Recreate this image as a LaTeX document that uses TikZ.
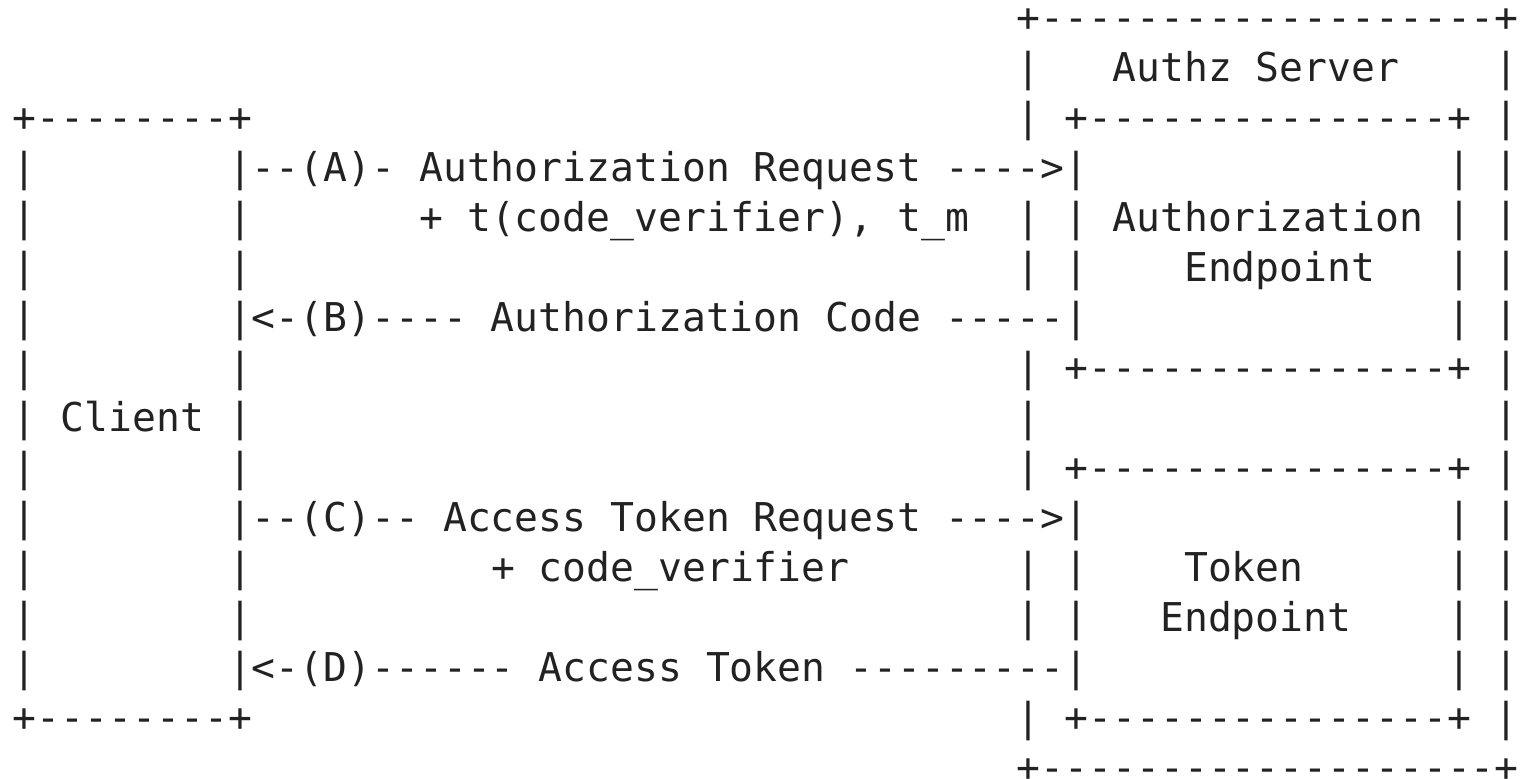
\documentclass[tikz,border=0pt]{standalone}
\usepackage{fontspec}
\setmonofont{DejaVu Sans Mono}
\definecolor{ink}{HTML}{222222}
\tikzset{asc/.style={anchor=base west, inner sep=0pt, outer sep=0pt, text=ink,
  font=\ttfamily\fontsize{19.85}{24}\selectfont}}
% name, column, row, text
\newcommand\asctxt[4]{\node[asc] (#1) at ({6.49+11.951*(#2)},{-(16+25*(#3))}) {#4};}
\begin{document}
\begin{tikzpicture}[x=1pt,y=1pt]
\useasboundingbox (0,0) rectangle (763,-389.5);
% Authz Server outer box
\asctxt{srvtop}{42}{0}{+-------------------+}
\asctxt{srvtitle}{46}{1}{Authz Server}
\asctxt{srvbot}{42}{15}{+-------------------+}
\foreach \r in {1,...,14} {\asctxt{sr\r}{62}{\r}{|}}
\foreach \r in {1,2,4,5,7,8,9,11,12,14} {\asctxt{sl\r}{42}{\r}{|}}
% Authorization endpoint box
\asctxt{aetop}{44}{2}{+---------------+}
\asctxt{aebot}{44}{7}{+---------------+}
\asctxt{aetxt1}{46}{4}{Authorization}
\asctxt{aetxt2}{49}{5}{Endpoint}
% Token endpoint box
\asctxt{tetop}{44}{9}{+---------------+}
\asctxt{tebot}{44}{14}{+---------------+}
\asctxt{tetxt1}{49}{11}{Token}
\asctxt{tetxt2}{48}{12}{Endpoint}
\foreach \r in {4,5,11,12} {\asctxt{el\r}{44}{\r}{|}}
\foreach \r in {3,4,5,6,10,11,12,13} {\asctxt{er\r}{60}{\r}{|}}
% Client box
\asctxt{cltop}{0}{2}{+--------+}
\asctxt{clbot}{0}{14}{+--------+}
\asctxt{clname}{0}{8}{| Client |}
\foreach \r in {3,4,5,6,7,9,10,11,12,13} {\asctxt{cl\r}{0}{\r}{|}}
\foreach \r in {4,5,7,9,11,12} {\asctxt{cr\r}{9}{\r}{|}}
% Flows
\asctxt{flowA}{9}{3}{|--(A)- Authorization Request ---->|}
\asctxt{flowAx}{17}{4}{+ t(code\_verifier), t\_m}
\asctxt{flowB}{9}{6}{|<-(B)---- Authorization Code -----|}
\asctxt{flowC}{9}{10}{|--(C)-- Access Token Request ---->|}
\asctxt{flowCx}{20}{11}{+ code\_verifier}
\asctxt{flowD}{9}{13}{|<-(D)------ Access Token ---------|}
\end{tikzpicture}
\end{document}
